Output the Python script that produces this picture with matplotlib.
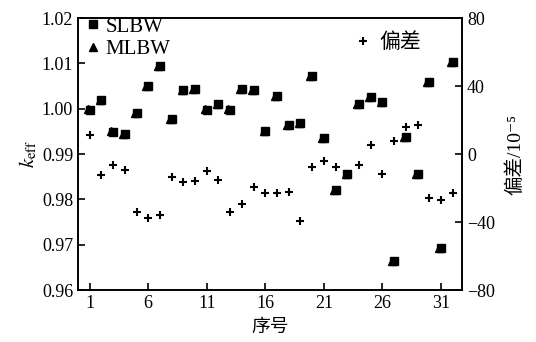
import matplotlib.pyplot as plt

plt.rcParams['font.family'] = ['Liberation Serif', 'Noto Sans CJK SC', 'DejaVu Sans']
plt.rcParams['mathtext.fontset'] = 'stix'

# case number and k_eff from the two resonance formalisms
idx = list(range(1, 33))
slbw = [0.9997, 1.0019, 0.9949, 0.9945, 0.9990, 1.0050, 1.0094, 0.9977,
        1.0041, 1.0043, 0.9998, 1.0010, 0.9998, 1.0044, 1.0041, 0.9952,
        1.0028, 0.9964, 0.9968, 1.0072, 0.9935, 0.9820, 0.9857, 1.0010,
        1.0026, 1.0015, 0.9663, 0.9937, 0.9856, 1.0059, 0.9692, 1.0103]
mlbw = [0.9999, 1.0019, 0.9950, 0.9945, 0.9991, 1.0050, 1.0095, 0.9977,
        1.0042, 1.0043, 0.9999, 1.0010, 0.9999, 1.0044, 1.0041, 0.9952,
        1.0028, 0.9964, 0.9968, 1.0073, 0.9935, 0.9821, 0.9857, 1.0010,
        1.0026, 1.0015, 0.9664, 0.9937, 0.9857, 1.0060, 0.9692, 1.0104]
# deviation in units of 1e-5
dev = [11.2, -12.4, -6.5, -9.4, -34.1, -37.6, -35.9, -13.5,
       -16.5, -15.9, -10.0, -15.3, -34.1, -29.4, -19.4, -22.9,
       -22.9, -22.4, -39.4, -7.6, -4.1, -7.6, -11.8, -6.5,
       5.3, -11.8, 7.6, 15.9, 17.1, -25.9, -27.1, -22.9]

fig = plt.figure(figsize=(5.36, 3.42), dpi=100)
ax = fig.add_axes([0.1455, 0.152, 0.7165, 0.795])
ax2 = ax.twinx()

ax.plot(idx, slbw, 's', color='black', ms=6, label='SLBW')
ax.plot([i - 0.15 for i in idx], mlbw, '^', color='black', ms=6, label='MLBW')
ax2.plot(idx, dev, '+', color='black', ms=6, mew=1.5, label='偏差')

ax.set_xlim(0, 32.8)
ax.set_ylim(0.96, 1.02)
ax.set_xticks([1, 6, 11, 16, 21, 26, 31])
ax.set_yticks([0.96, 0.97, 0.98, 0.99, 1.00, 1.01, 1.02])
ax.set_yticklabels(['%.2f' % v for v in ax.get_yticks()])
ax2.set_ylim(-80, 80)
ax2.set_yticks([-80, -40, 0, 40, 80])
ax2.set_yticklabels(['\u221280', '\u221240', '0', '40', '80'])

for a in (ax, ax2):
    a.tick_params(direction='in', length=5, width=1.2, labelsize=13)
    for s in a.spines.values():
        s.set_linewidth(1.2)

ax.set_xlabel('序号', fontsize=13.5, labelpad=5)
ax.set_ylabel(r'$k_{\rm eff}$', fontsize=15, labelpad=2)
ax2.set_ylabel('偏差/10\u207b\u2075', fontsize=14, labelpad=8)

ax.legend(loc='upper left', frameon=False, fontsize=15, handletextpad=0.1,
          handlelength=1.0, borderaxespad=0.0, labelspacing=0.15,
          bbox_to_anchor=(-0.01, 1.035))
ax2.legend(loc='upper right', frameon=False, fontsize=15, handletextpad=0.3,
           handlelength=1.0, borderaxespad=0.0, bbox_to_anchor=(0.915, 0.975))

fig.savefig('out.png', dpi=100)
